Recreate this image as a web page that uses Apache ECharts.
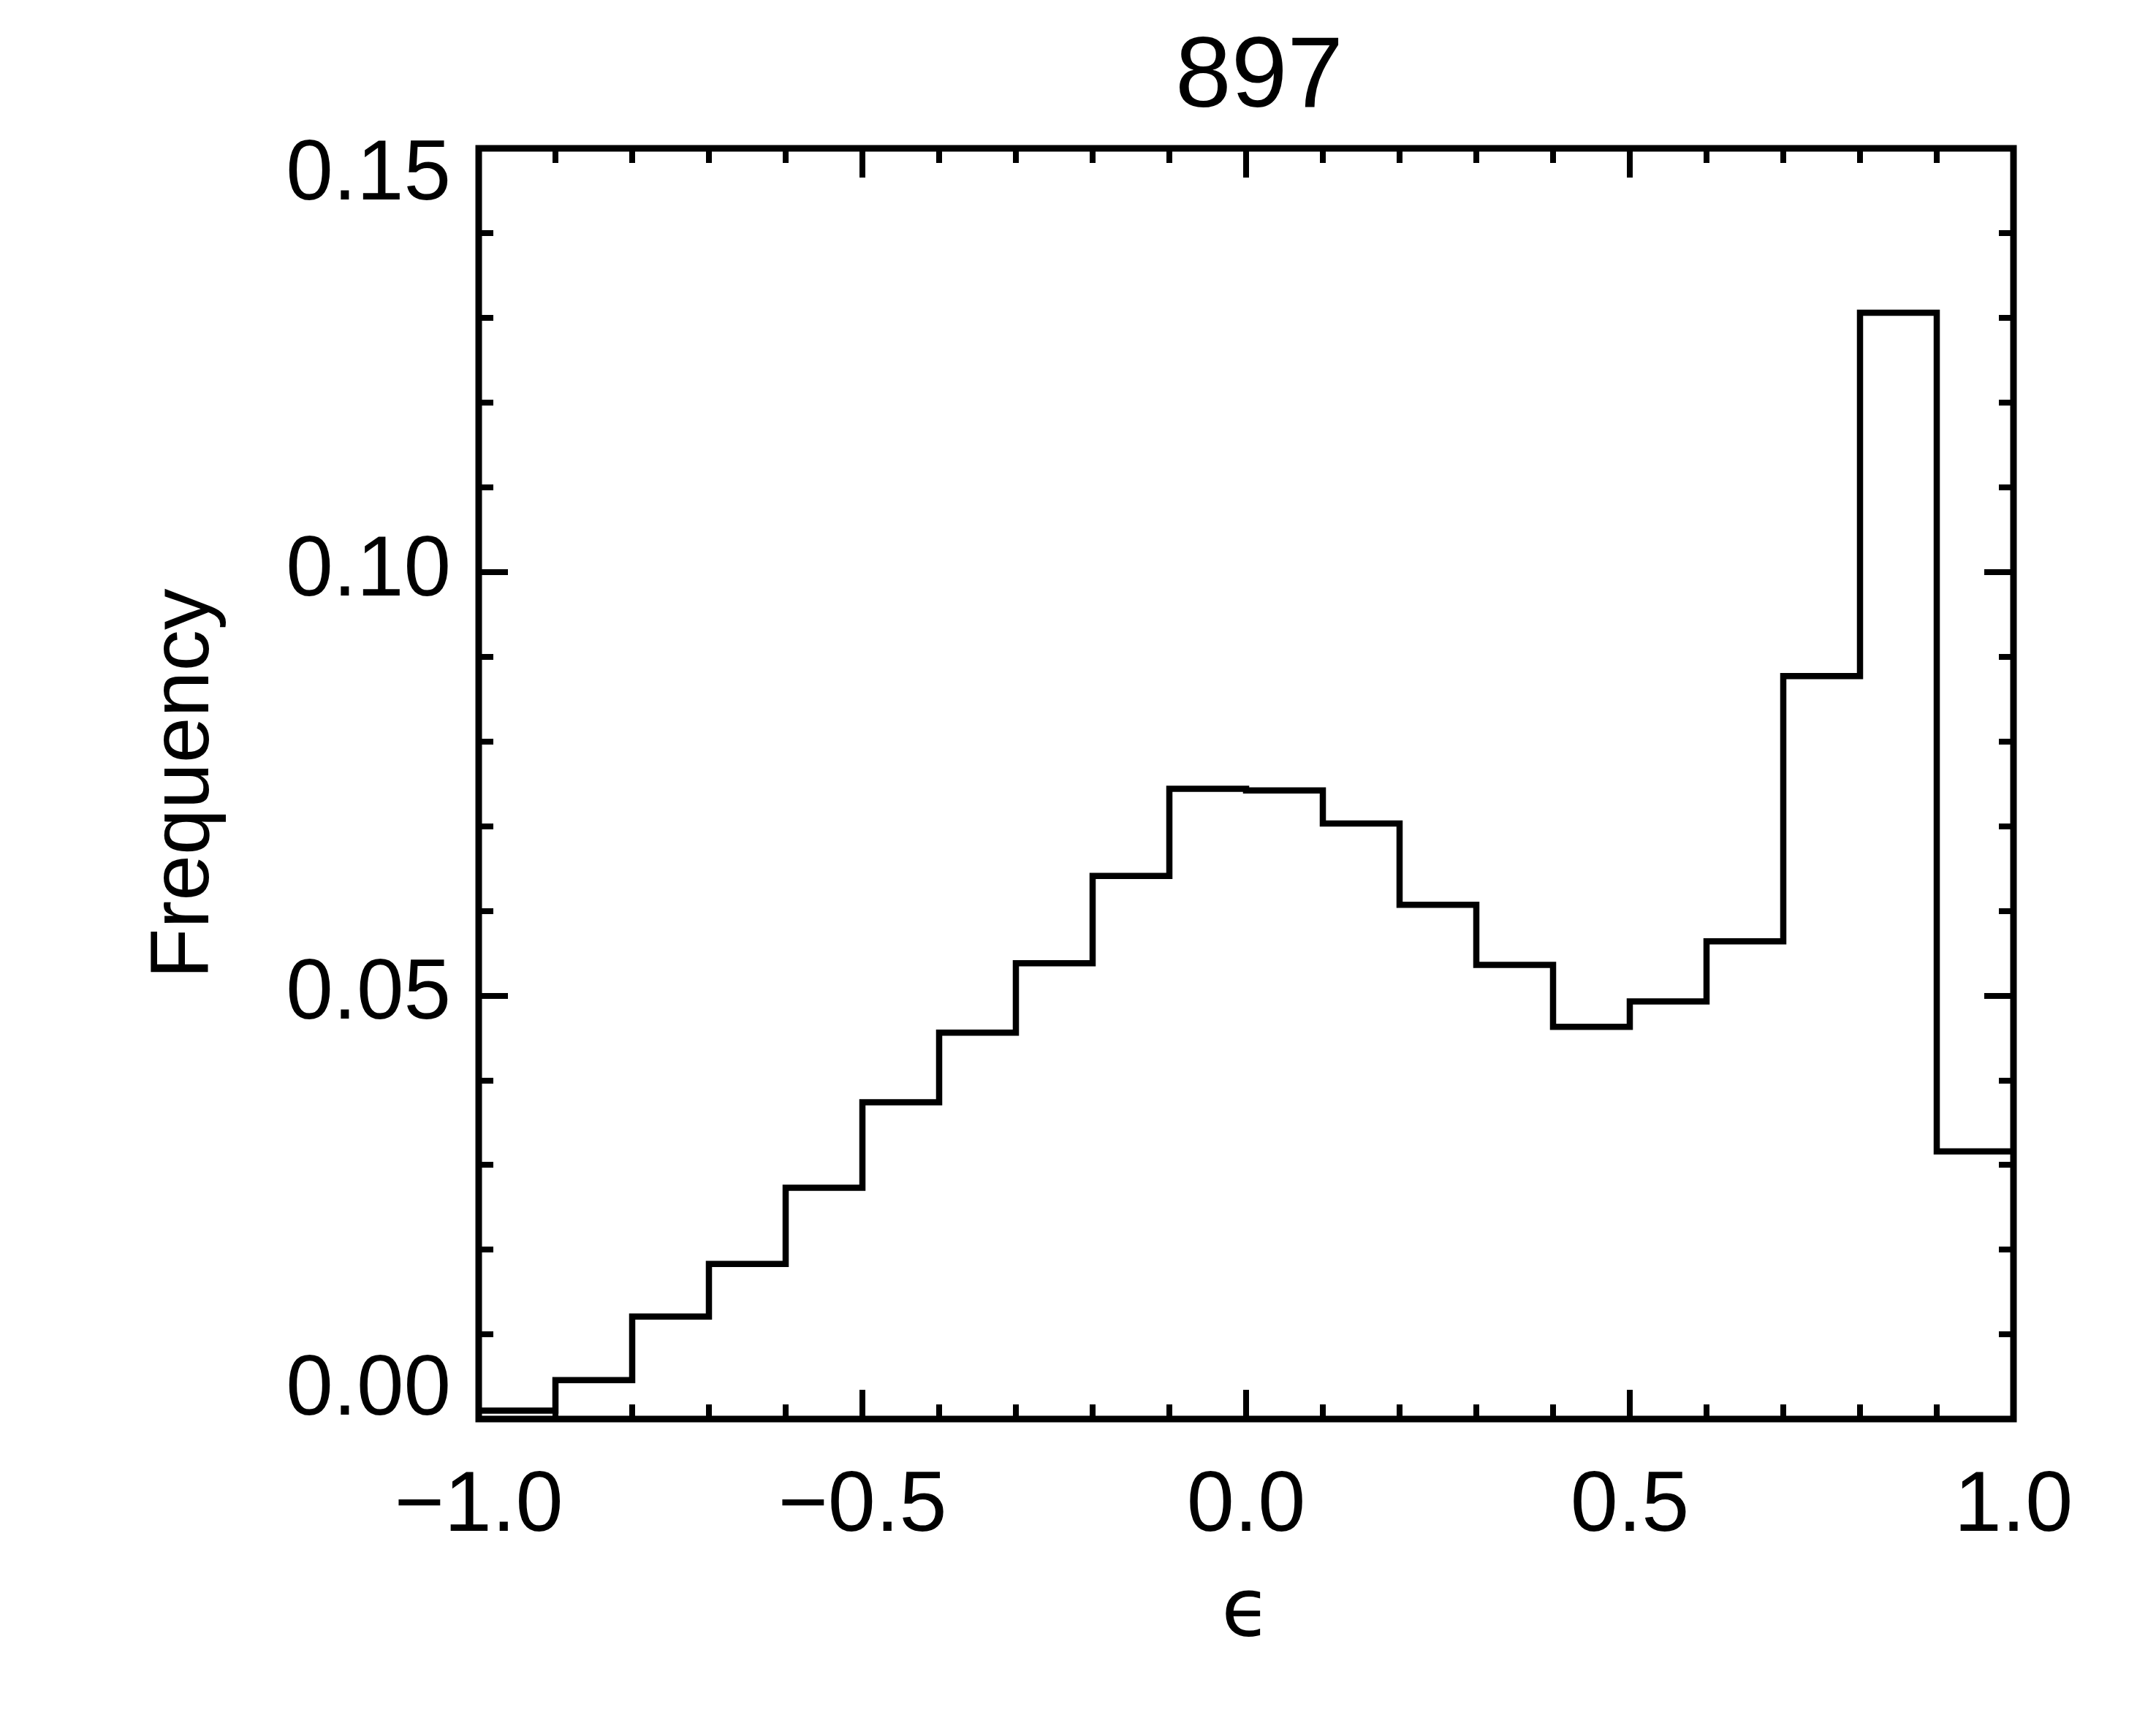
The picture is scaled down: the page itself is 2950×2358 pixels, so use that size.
<!DOCTYPE html>
<html>
<head>
<meta charset="utf-8">
<script src="https://cdn.jsdelivr.net/npm/echarts@6/dist/echarts.min.js"></script>
<style>html,body{margin:0;padding:0;background:#fff;}#c{width:2950px;height:2358px;}</style>
</head>
<body>
<div id="c"></div>
<script>
// Histogram bin left edges (epsilon) and frequencies
var binLeft = [-1.0, -0.9, -0.8, -0.7, -0.6, -0.5, -0.4, -0.3, -0.2, -0.1, 0.0, 0.1, 0.2, 0.3, 0.4, 0.5, 0.6, 0.7, 0.8, 0.9];
var binRightEnd = 1.0;
var frequency = [0.0010, 0.0046, 0.0121, 0.0183, 0.0273, 0.0374, 0.0456, 0.0538, 0.0641, 0.0744, 0.0742, 0.0703, 0.0607, 0.0536, 0.0463, 0.0493, 0.0564, 0.0877, 0.1306, 0.0316];
var titleText = '897';
var xName = '\u03F5';
var yName = 'Frequency';
var xTicks = [-1.0, -0.5, 0.0, 0.5, 1.0];
var yTicks = [0.00, 0.05, 0.10, 0.15];

var stepData = binLeft.map(function (x, i) { return [x, frequency[i]]; });
stepData.push([binRightEnd, frequency[frequency.length - 1]]);

var FONT = "'Liberation Sans', Arial, 'DejaVu Sans', sans-serif";
var black = '#000';

function tickCommon() {
  return {
    axisLine: { show: false, onZero: false },
    axisTick: { show: true, inside: true, length: 40, lineStyle: { color: black, width: 8 } },
    minorTick: { show: true, splitNumber: 5, length: 20, lineStyle: { color: black, width: 8 } },
    splitLine: { show: false }
  };
}

var chart = echarts.init(document.getElementById('c'), null, { renderer: 'canvas', width: 2950, height: 2358 });

var xBottom = Object.assign(tickCommon(), {
  type: 'value', position: 'bottom', min: xTicks[0], max: xTicks[xTicks.length - 1], interval: 0.5,
  name: xName, nameLocation: 'middle', nameGap: 212,
  nameTextStyle: { fontFamily: "'DejaVu Sans', 'Liberation Sans', sans-serif", fontSize: 110, color: black },
  axisLabel: {
    show: true, margin: 62, fontFamily: FONT, fontSize: 117, color: black,
    formatter: function (v) { return v.toFixed(1).replace('-', '\u2212'); }
  }
});
var xTop = Object.assign(tickCommon(), {
  type: 'value', position: 'top', min: xTicks[0], max: xTicks[xTicks.length - 1], interval: 0.5,
  axisLabel: { show: false }
});
var yLeft = Object.assign(tickCommon(), {
  type: 'value', position: 'left', min: yTicks[0], max: yTicks[yTicks.length - 1], interval: 0.05,
  name: yName, nameLocation: 'middle', nameGap: 345, nameRotate: 90,
  nameTextStyle: { fontFamily: FONT, fontSize: 113, color: black },
  axisLabel: {
    show: true, margin: 38, fontFamily: FONT, fontSize: 116, lineHeight: 76, color: black,
    verticalAlignMinLabel: 'bottom', verticalAlignMaxLabel: 'top',
    formatter: function (v) { return v.toFixed(2); }
  }
});
var yRight = Object.assign(tickCommon(), {
  type: 'value', position: 'right', min: yTicks[0], max: yTicks[yTicks.length - 1], interval: 0.05,
  axisLabel: { show: false }
});

chart.setOption({
  animation: false,
  backgroundColor: '#fff',
  title: {
    text: titleText, left: 1718, top: 34, textAlign: 'center',
    textStyle: { fontFamily: FONT, fontSize: 138, fontWeight: 'normal', color: black }
  },
  grid: { left: 655, right: 195, top: 203, bottom: 416, show: true, borderWidth: 9, borderColor: black, backgroundColor: 'transparent' },
  xAxis: [xBottom, xTop],
  yAxis: [yLeft, yRight],
  series: [{
    type: 'line', step: 'end', data: stepData, xAxisIndex: 0, yAxisIndex: 0,
    showSymbol: false, symbol: 'none', clip: false,
    lineStyle: { color: black, width: 8.5, join: 'miter', cap: 'butt' }
  }]
});
</script>
</body>
</html>
